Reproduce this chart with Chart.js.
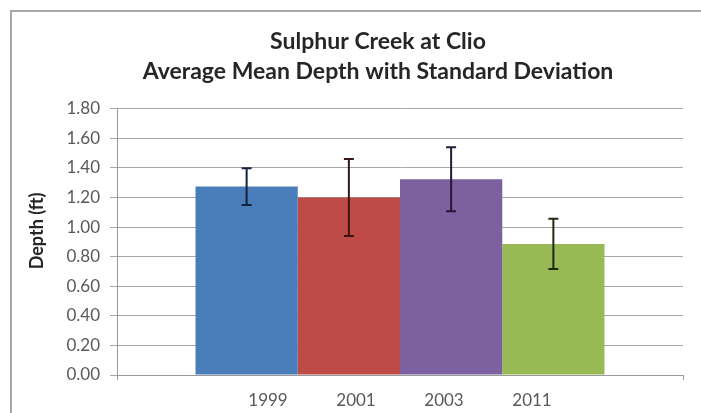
<!DOCTYPE html>
<html>
<head>
<meta charset="utf-8">
<script src="https://cdn.jsdelivr.net/npm/chart.js@4/dist/chart.umd.min.js"></script>
<style>
  html, body { margin: 0; padding: 0; background: #ffffff; overflow: hidden; width: 701px; height: 413px; }
  #frame { position: absolute; left: 10px; top: 10px; width: 1000px; height: 1000px; border-left: 2px solid #a8a8a8; border-top: 2px solid #a8a8a8; box-sizing: border-box; }
  #c { position: absolute; left: 0; top: 0; }
</style>
</head>
<body>
<div id="frame"></div>
<canvas id="c" width="756" height="413"></canvas>
<script>
// ---- data ----
const years = ['1999', '2001', '2003', '2011'];
const meanDepth = [1.274, 1.20, 1.324, 0.886];
const stdDev = [0.124, 0.26, 0.216, 0.17];
const barColors = ['#4a7ebb', '#be4b48', '#7d60a0', '#98b954'];
const errColors = ['#15233a', '#3a1414', '#241a33', '#1f2a10'];
const yTicks = [0, 0.2, 0.4, 0.6, 0.8, 1.0, 1.2, 1.4, 1.6, 1.8];
const titleLines = ['Sulphur Creek at Clio', 'Average Mean Depth with Standard Deviation'];
const yTitle = 'Depth (ft)';

const FONT = 'Lato, "Open Sans", "Liberation Sans", sans-serif';

const errorBars = {
  id: 'errorBars',
  afterDatasetsDraw(chart) {
    const ctx = chart.ctx;
    const ys = chart.scales.y;
    chart.data.datasets.forEach((ds, i) => {
      const meta = chart.getDatasetMeta(i);
      const bar = meta.data[0];
      if (!bar) return;
      const x = bar.x;
      const yt = ys.getPixelForValue(meanDepth[i] + stdDev[i]);
      const yb = ys.getPixelForValue(meanDepth[i] - stdDev[i]);
      ctx.save();
      ctx.strokeStyle = errColors[i];
      ctx.lineWidth = 2;
      ctx.beginPath();
      ctx.moveTo(x, yt); ctx.lineTo(x, yb);
      ctx.moveTo(x - 5, yt); ctx.lineTo(x + 5, yt);
      ctx.moveTo(x - 5, yb); ctx.lineTo(x + 5, yb);
      ctx.stroke();
      ctx.restore();
    });
  }
};

// y-axis title, placed like the reference (slightly above the plot centre)
const yAxisTitle = {
  id: 'yAxisTitle',
  afterDraw(chart) {
    const ctx = chart.ctx;
    const area = chart.chartArea;
    ctx.save();
    ctx.translate(37, (area.top + area.bottom) / 2 - 11);
    ctx.rotate(-Math.PI / 2);
    ctx.font = 'bold 18px ' + FONT;
    ctx.fillStyle = '#262626';
    ctx.textAlign = 'center';
    ctx.textBaseline = 'middle';
    ctx.fillText(yTitle, 0, 0);
    ctx.restore();
  }
};

new Chart(document.getElementById('c'), {
  type: 'bar',
  data: {
    labels: ['Depth'],
    datasets: years.map((yr, i) => ({
      label: yr,
      data: [meanDepth[i]],
      backgroundColor: barColors[i],
      borderWidth: 0,
      xAxisID: 'x',
      yAxisID: 'y'
    }))
  },
  options: {
    responsive: false,
    animation: false,
    devicePixelRatio: 1,
    categoryPercentage: 0.7226,
    barPercentage: 1.0,
    layout: { padding: 0 },
    plugins: {
      legend: { display: false },
      tooltip: { enabled: false },
      title: {
        display: true,
        text: titleLines,
        color: '#262626',
        font: { family: FONT, size: 23, weight: 'bold', lineHeight: 1.3 },
        padding: { top: 27, bottom: 22 }
      }
    },
    scales: {
      x: {
        type: 'category',
        position: 'bottom',
        weight: 0,
        offset: true,
        ticks: { display: false },
        grid: { offset: true, drawOnChartArea: false, drawTicks: true, tickLength: 5, color: '#9a9a9a' },
        border: { display: true, color: '#9a9a9a', width: 1 },
        afterFit(s) { s.height = 5; }
      },
      x2: {
        type: 'linear',
        position: 'bottom',
        weight: 1,
        offset: false,
        min: -3.216,
        max: 3.216,
        afterBuildTicks(s) { s.ticks = years.map((_, i) => ({ value: i - 1.5 })); },
        ticks: {
          autoSkip: false,
          maxRotation: 0,
          padding: 10,
          color: '#595959',
          font: { family: FONT, size: 17 },
          callback: (v, i) => years[i]
        },
        grid: { display: false, offset: false, drawTicks: false, tickLength: 0 },
        border: { display: false },
        afterFit(s) { s.height = 33; }
      },
      y2: {
        type: 'linear',
        position: 'right',
        display: true,
        ticks: { display: false },
        grid: { display: false },
        border: { display: false },
        afterFit(s) { s.width = 73; }
      },
      y: {
        type: 'linear',
        position: 'left',
        min: 0,
        max: 1.8,
        afterBuildTicks(s) { s.ticks = yTicks.map(v => ({ value: v })); },
        ticks: {
          color: '#595959',
          padding: 10,
          font: { family: FONT, size: 17 },
          callback: (v) => Number(v).toFixed(2)
        },
        grid: { color: '#a6a6a6', tickLength: 7, drawTicks: true },
        border: { display: true, color: '#9a9a9a' },
        title: { display: false },
        afterFit(s) { s.width = 117; }
      }
    }
  },
  plugins: [errorBars, yAxisTitle]
});
</script>
</body>
</html>
